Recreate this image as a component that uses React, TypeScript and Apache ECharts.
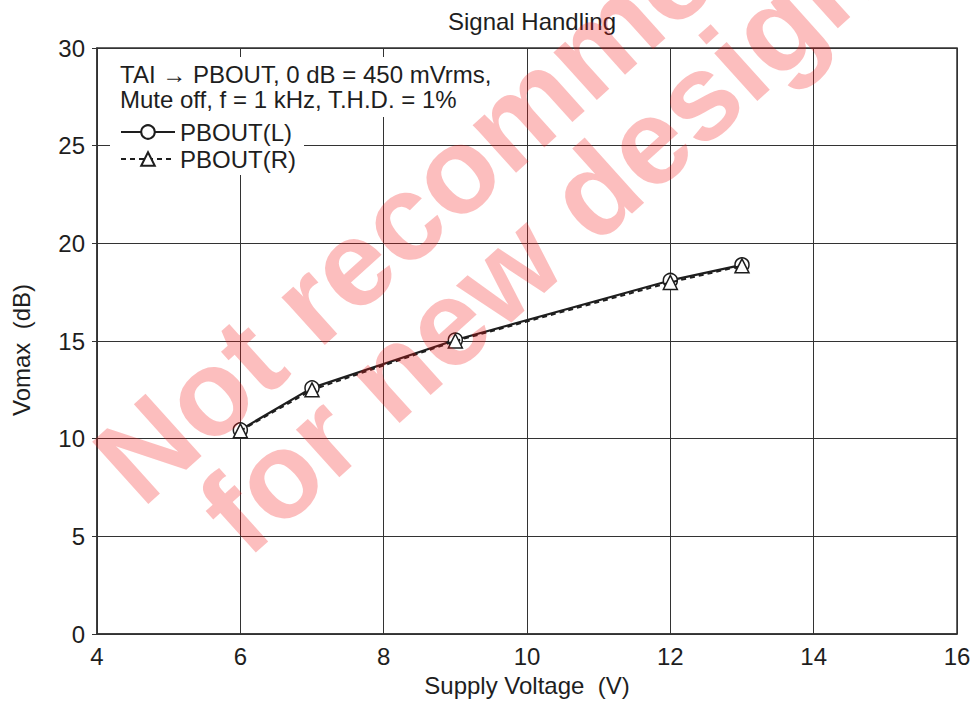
import React, { useEffect, useRef } from "react";
import * as echarts from "echarts";

const voltage = [6, 7, 9, 12, 13];
const pboutL = [10.45, 12.6, 15.05, 18.1, 18.9];
const pboutR = [10.4, 12.5, 15.0, 18.0, 18.85];
const seriesNames = ["PBOUT(L)", "PBOUT(R)"];
const noteLines = ["TAI \u2192 PBOUT, 0 dB = 450 mVrms,", "Mute off, f = 1 kHz, T.H.D. = 1%"];
const watermarkLines = ["Not recommended", "for new designs."];
const yAxisTitle = "Vomax  (dB)";

const FONT = "'Liberation Sans', Arial, Helvetica, sans-serif";
const INK = "#1e1e1e";
const FS = 24;

export default function App() {
  const ref = useRef<HTMLDivElement>(null);
  useEffect(() => {
    if (!ref.current) return;
    const chart = echarts.init(ref.current, undefined, { renderer: "svg" });
    const toPairs = (ys: number[]) => voltage.map((x, i) => [x, ys[i]]);
    const wmAngle = (42 * Math.PI) / 180;
    const wmFill = "rgba(245,20,20,0.28)";
    chart.setOption({
      animation: false,
      backgroundColor: "#ffffff",
      textStyle: { fontFamily: FONT },
      title: {
        text: "Signal Handling",
        left: 527,
        textAlign: "center",
        top: 4,
        textStyle: { fontFamily: FONT, fontSize: FS, fontWeight: "normal", color: INK },
      },
      grid: {
        left: 97,
        right: 18,
        top: 48,
        bottom: 73,
        show: true,
        borderColor: "#333",
        borderWidth: 1.5,
        backgroundColor: "transparent",
      },
      legend: {
        orient: "vertical",
        left: 115,
        top: 115,
        itemWidth: 54,
        itemHeight: 17,
        itemGap: 3,
        data: seriesNames,
        textStyle: { fontFamily: FONT, fontSize: FS, lineHeight: 21, color: INK },
        selectedMode: false,
      },
      xAxis: {
        type: "value",
        min: 4,
        max: 16,
        interval: 2,
        name: "Supply Voltage  (V)",
        nameLocation: "middle",
        nameGap: 39,
        nameTextStyle: { fontFamily: FONT, fontSize: FS, color: INK },
        axisLine: { show: true, lineStyle: { color: "#333", width: 1.5 } },
        axisTick: { show: false },
        axisLabel: { fontFamily: FONT, fontSize: FS, color: INK, margin: 10 },
        splitLine: { show: true, lineStyle: { color: "#333", width: 1 } },
      },
      yAxis: {
        type: "value",
        min: 0,
        max: 30,
        interval: 5,
        axisLine: { show: true, lineStyle: { color: "#333", width: 1.5 } },
        axisTick: { show: true, length: 5, lineStyle: { color: "#333" } },
        axisLabel: { fontFamily: FONT, fontSize: FS, color: INK, margin: 12 },
        splitLine: { show: true, lineStyle: { color: "#333", width: 1 } },
      },
      graphic: [
        {
          type: "rect",
          z: 1,
          shape: { x: 110, y: 57, width: 380, height: 60 },
          style: { fill: "#ffffff" },
          silent: true,
        },
        {
          type: "rect",
          z: 1,
          shape: { x: 110, y: 115, width: 194, height: 60 },
          style: { fill: "#ffffff" },
          silent: true,
        },
        {
          type: "text",
          z: 3,
          left: 120,
          top: 62,
          style: { text: noteLines[0], font: `${FS}px ${FONT}`, fill: INK },
          silent: true,
        },
        {
          type: "text",
          z: 3,
          left: 120,
          top: 87,
          style: { text: noteLines[1], font: `${FS}px ${FONT}`, fill: INK },
          silent: true,
        },
        {
          type: "text",
          z: 3,
          x: 21,
          y: 350,
          rotation: Math.PI / 2,
          style: {
            text: yAxisTitle,
            font: `${FS}px ${FONT}`,
            fill: INK,
            align: "center",
            verticalAlign: "middle",
          },
          silent: true,
        },
        {
          type: "group",
          z: 100,
          x: 512,
          y: 120,
          rotation: wmAngle,
          silent: true,
          children: [
            {
              type: "text",
              z: 100,
              x: 0,
              y: 0,
              style: {
                text: watermarkLines[0],
                font: `bold 122px ${FONT}`,
                fill: wmFill,
                align: "center",
                verticalAlign: "middle",
              },
            },
            {
              type: "text",
              z: 100,
              x: -10,
              y: 108,
              style: {
                text: watermarkLines[1],
                font: `bold 122px ${FONT}`,
                fill: wmFill,
                align: "center",
                verticalAlign: "middle",
              },
            },
          ],
        },
      ],
      series: [
        {
          name: seriesNames[1],
          type: "line",
          data: toPairs(pboutR),
          symbol: "triangle",
          symbolSize: 14,
          z: 3,
          lineStyle: { color: INK, width: 2, type: [5, 4] },
          itemStyle: { color: "#ffffff", borderColor: INK, borderWidth: 1.5 },
        },
        {
          name: seriesNames[0],
          type: "line",
          data: toPairs(pboutL),
          symbol: "circle",
          symbolSize: 14,
          z: 2,
          lineStyle: { color: INK, width: 2.2 },
          itemStyle: { color: "#ffffff", borderColor: INK, borderWidth: 1.5 },
        },
      ],
    });
    return () => chart.dispose();
  }, []);
  return <div ref={ref} style={{ width: 975, height: 707, position: "absolute", left: 0, top: 0 }} />;
}
